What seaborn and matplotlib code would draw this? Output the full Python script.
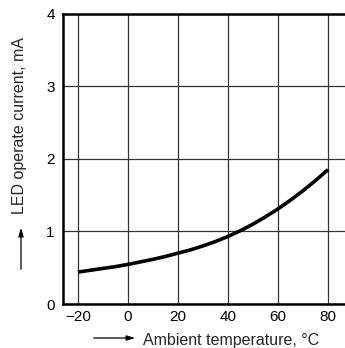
import matplotlib
matplotlib.use("Agg")
import matplotlib.pyplot as plt
import seaborn as sns
import pandas as pd

sns.set_style("white")
plt.rcParams['font.family'] = ['Liberation Sans', 'DejaVu Sans']

temperature_c = [-20, -15, -10, -5, 0, 5, 10, 15, 20, 25, 30, 35, 40,
                 45, 50, 55, 60, 65, 70, 75, 80]
operate_current_ma = [0.44, 0.465, 0.49, 0.515, 0.545, 0.58, 0.615, 0.655, 0.70,
                      0.745, 0.80, 0.86, 0.93, 1.01, 1.10, 1.20, 1.31,
                      1.43, 1.56, 1.70, 1.85]
x_ticks = [-20, 0, 20, 40, 60, 80]
y_ticks = [0, 1, 2, 3, 4]
x_tick_labels = ["\u221220", "0", "20", "40", "60", "80"]

df = pd.DataFrame({"temp": temperature_c, "current": operate_current_ma})

fig = plt.figure(figsize=(3.45, 3.48), dpi=100)
ax = fig.add_axes([63/345, 44/348, 282/345, 290.5/348])

ax.set_xlim(-26, 86.8)
ax.set_ylim(0, 4)
ax.set_xticks(x_ticks)
ax.set_xticklabels(x_tick_labels)
ax.set_yticks(y_ticks)
ax.grid(True, color="#333333", linewidth=0.9)
ax.set_axisbelow(True)

sns.lineplot(data=df, x="temp", y="current", ax=ax, color="black",
             linewidth=2.6, solid_capstyle="butt", solid_joinstyle="round")

for side in ("left", "top", "bottom"):
    ax.spines[side].set_linewidth(1.8)
    ax.spines[side].set_color("black")
ax.spines["right"].set_visible(False)

ax.tick_params(axis="both", length=0, labelsize=11, colors="black")
ax.tick_params(axis="x", pad=4)
ax.tick_params(axis="y", pad=6)
ax.set_xlabel("")
ax.set_ylabel("")

# axis titles with leading arrows
fig.text(143/345, 1 - 340/348, "Ambient temperature, \u00b0C", fontsize=11.5,
         ha="left", va="center")
ax.annotate("", xy=(138, 348 - 338), xytext=(91, 348 - 338),
            xycoords="figure pixels", textcoords="figure pixels",
            arrowprops=dict(arrowstyle="-|>,head_length=0.5,head_width=0.15",
                            color="black", lw=0.9))

fig.text(20/345, 1 - 125.5/348, "LED operate current, mA", fontsize=11.5,
         rotation=90, ha="center", va="center")
ax.annotate("", xy=(21, 348 - 225), xytext=(21, 348 - 272),
            xycoords="figure pixels", textcoords="figure pixels",
            arrowprops=dict(arrowstyle="-|>,head_length=0.5,head_width=0.15",
                            color="black", lw=0.9))

fig.savefig("out.png", dpi=100)
